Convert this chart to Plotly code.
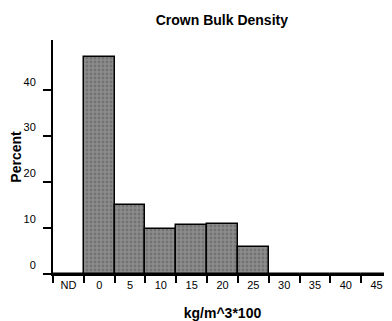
import plotly.graph_objects as go

categories = ["ND", "0", "5", "10", "15", "20", "25", "30", "35", "40", "45"]
percent = [0, 47.2, 15.0, 9.7, 10.65, 10.9, 5.9, 0, 0, 0, 0]
y_ticks = [0, 10, 20, 30, 40]

fig = go.Figure()
fig.add_trace(go.Bar(
    x=categories, y=percent,
    marker=dict(
        color="#858585",
        line=dict(color="black", width=1.5),
        pattern=dict(shape=".", fgcolor="#5a5a5a", bgcolor="#8c8c8c", size=4, solidity=0.4),
    ),
))

font = "Liberation Sans, Arial, sans-serif"
# page body has an 8px default margin, so the figure is sized/offset to compensate
fig.update_layout(
    width=384, height=313,
    margin=dict(l=45, r=0, t=32, b=47),
    paper_bgcolor="white", plot_bgcolor="white",
    bargap=0, showlegend=False,
    title=dict(text="<b>Crown Bulk Density</b>", x=0.557, xanchor="center", y=0.962, yanchor="middle",
               font=dict(family=font, size=14, color="black")),
    font=dict(family=font, size=11, color="black"),
)
fig.update_xaxes(
    type="category", range=[-0.5, 10.5], tickson="boundaries",
    showline=True, linecolor="black", linewidth=2,
    ticks="outside", ticklen=7, tickwidth=1.5, tickcolor="black",
    showgrid=False, zeroline=False, automargin=False,
    title=dict(text="<b>kg/m^3*100</b>", font=dict(size=14), standoff=19),
)
fig.update_yaxes(
    range=[0, 50.9], tickvals=y_ticks, ticktext=[str(v) for v in y_ticks],
    showline=True, linecolor="black", linewidth=2,
    ticks="outside", ticklen=8, tickwidth=1.5, tickcolor="black",
    ticklabelposition="outside top", ticklabelstandoff=13,
    showgrid=False, zeroline=False, automargin=False,
    title=dict(text="<b>Percent</b>", font=dict(size=14), standoff=4),
)
fig.write_html("out.html")
